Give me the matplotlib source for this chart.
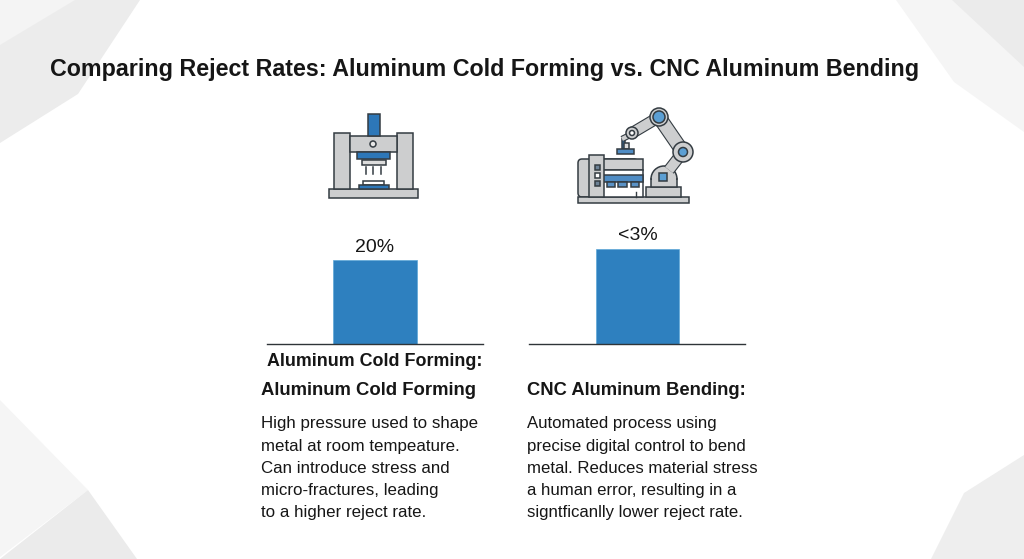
import matplotlib
matplotlib.use("Agg")
import matplotlib.pyplot as plt
from matplotlib.patches import Polygon, Rectangle, Circle, FancyBboxPatch, Wedge

# ---- data ----
categories = ["Aluminum Cold Forming", "CNC Aluminum Bending"]
value_labels = ["20%", "<3%"]
# bar heights exactly as drawn in the reference (they do not follow the printed labels)
bar_heights = [83.5, 95.0]

title = "Comparing Reject Rates: Aluminum Cold Forming vs. CNC Aluminum Bending"
left_headings = ["Aluminum Cold Forming:", "Aluminum Cold Forming"]
right_heading = "CNC Aluminum Bending:"
left_body = ["High pressure used to shape", "metal at room tempeature.",
             "Can introduce stress and", "micro-fractures, leading",
             "to a higher reject rate."]
right_body = ["Automated process using", "precise digital control to bend",
              "metal. Reduces material stress", "a human error, resulting in a",
              "signtficanlly lower reject rate."]

W, H = 1024, 559
BLUE = "#2e80bf"; DARK = "#343c42"; GREY = "#cdcecf"; TEXT = "#161616"
FONT = ["Liberation Sans", "DejaVu Sans"]

fig = plt.figure(figsize=(W / 100, H / 100), dpi=100, facecolor="white")
bg = fig.add_axes([0, 0, 1, 1], zorder=0)
bg.set_xlim(0, W); bg.set_ylim(H, 0); bg.axis("off")

# ---- pale background shards ----
for pts, c in [
    ([(0, 143), (78, 94), (140, 0), (0, 0)], "#ececec"),
    ([(0, 45), (75, 0), (0, 0)], "#f4f4f4"),
    ([(896, 0), (954, 82), (1024, 132), (1024, 0)], "#f5f5f5"),
    ([(952, 0), (1024, 67), (1024, 0)], "#ebebeb"),
    ([(0, 400), (88, 490), (0, 557)], "#f5f5f5"),
    ([(88, 490), (137, 559), (0, 559)], "#ebebeb"),
    ([(931, 559), (964, 493), (1024, 455), (1024, 559)], "#eeeeee"),
]:
    bg.add_patch(Polygon(pts, closed=True, fc=c, ec="none"))


def box(x0, y0, x1, y1, fc=GREY, lw=1.1, z=2):
    bg.add_patch(Rectangle((x0, y0), x1 - x0, y1 - y0, fc=fc, ec=DARK, lw=lw, zorder=z))


def circ(x, y, r, fc=GREY, z=5):
    bg.add_patch(Circle((x, y), r, fc=fc, ec=DARK, lw=1.1, zorder=z))


def link(p, q, w):
    bg.plot(*zip(p, q), color=DARK, lw=w + 1.6, solid_capstyle="butt", zorder=3)
    bg.plot(*zip(p, q), color=GREY, lw=w, solid_capstyle="butt", zorder=3.1)


# ---- press icon ----
box(329, 189, 418, 198)
box(334, 133, 350, 189)
box(397, 133, 413, 189)
box(350, 136, 397, 152)
box(368, 114, 380, 136, fc="#2d77b8")
circ(373, 144, 3, fc="#e8e8e8")
box(357, 152, 390, 159, fc="#2d77b8")
box(362, 160, 386, 165, fc="#dcdcdc")
for x in (366, 373, 381):
    bg.plot([x, x], [167, 174], color=DARK, lw=1.1, zorder=3)
box(363, 181, 384, 185, fc="white")
box(359, 185, 389, 189, fc="#2d77b8")

# ---- robot icon ----
box(578, 197, 689, 203)
bg.add_patch(FancyBboxPatch((578, 159), 60, 38, boxstyle="round,pad=0,rounding_size=4",
                            fc=GREY, ec=DARK, lw=1.1, zorder=1.5))
box(603, 159, 643, 170)
box(603, 170, 643, 197, fc="white")
box(603, 175, 643, 182, fc="#4f8cc4")
for x0, x1 in [(607, 615), (618, 627), (631, 639)]:
    box(x0, 182, x1, 187, fc="#5a92c6")
bg.plot([636, 636], [192, 197], color=DARK, lw=1, zorder=3)
box(589, 155, 604, 197)
for y, c in [(167, "#6d8296"), (175, "white"), (183, "#6d8296")]:
    box(594.5, y - 2.5, 599.5, y + 2.5, fc=c, z=3)
box(646, 187, 681, 197)
bg.add_patch(Wedge((664, 179), 13, 180, 360, fc=GREY, ec=DARK, lw=1.1, zorder=2.1))
bg.add_patch(Rectangle((651, 179), 26, 8, fc=GREY, ec=DARK, lw=1.1, zorder=2.0))
bg.add_patch(Rectangle((651.6, 177), 24.8, 4, fc=GREY, ec="none", zorder=2.2))
box(659, 173, 667, 181, fc="#5b9fd4", z=3)
link((683, 152), (669, 170), 7)
link((683, 152), (659, 117), 9)
link((659, 117), (632, 133), 7)
circ(683, 152, 10)
circ(683, 152, 4.5, fc="#5b9fd4", z=6)
circ(659, 117, 9)
circ(659, 117, 6, fc="#5b9fd4", z=6)
circ(632, 133, 6)
circ(632, 133, 2.5, fc="white", z=6)
link((628, 136), (622, 139), 3)
box(622, 138, 625, 149, fc="#2d77b8")
box(624, 143, 629, 149, fc="#dcdcdc")
box(617, 149, 634, 154, fc="#4f8cc4")


# ---- the two single-bar panels ----
def panel(x0, x1, height, label, bar_x0, bar_x1):
    top, bottom = 200, 343.5
    ax = fig.add_axes([x0 / W, 1 - bottom / H, (x1 - x0) / W, (bottom - top) / H],
                      zorder=1)
    ax.patch.set_alpha(0)
    ax.set_xlim(x0, x1)
    ax.set_ylim(0, bottom - top)
    ax.bar((bar_x0 + bar_x1) / 2, height, width=bar_x1 - bar_x0,
           color=BLUE, edgecolor="#5da7d8", linewidth=0.5, zorder=2)
    for s in ("top", "left", "right"):
        ax.spines[s].set_visible(False)
    ax.spines["bottom"].set_color("#2f3438")
    ax.spines["bottom"].set_linewidth(1.0)
    ax.set_xticks([]); ax.set_yticks([])
    ax.annotate(label, ((bar_x0 + bar_x1) / 2, height), xytext=(0, 6),
                textcoords="offset points", ha="center", va="baseline",
                fontsize=14, color=TEXT, family=FONT, annotation_clip=False)


panel(266.5, 482.5, bar_heights[0], value_labels[0], 333, 416.5)
panel(528.5, 744.5, bar_heights[1], value_labels[1], 596, 679)


# ---- text ----
def put(x, y, s, size, weight="normal"):
    bg.text(x, y, s, fontsize=size, fontweight=weight, color=TEXT,
            family=FONT, ha="left", va="baseline", zorder=8)


put(50, 76, title, 16.72, "bold")
put(267, 366, left_headings[0], 12.9, "bold")
put(261, 395, left_headings[1], 13.3, "bold")
put(527, 395, right_heading, 13.2, "bold")
for y, a, b in zip((428, 450.5, 473, 495, 517), left_body, right_body):
    put(261, y, a, 12.2)
    put(527, y, b, 12.1)

fig.savefig("out.png", dpi=100, facecolor="white")
